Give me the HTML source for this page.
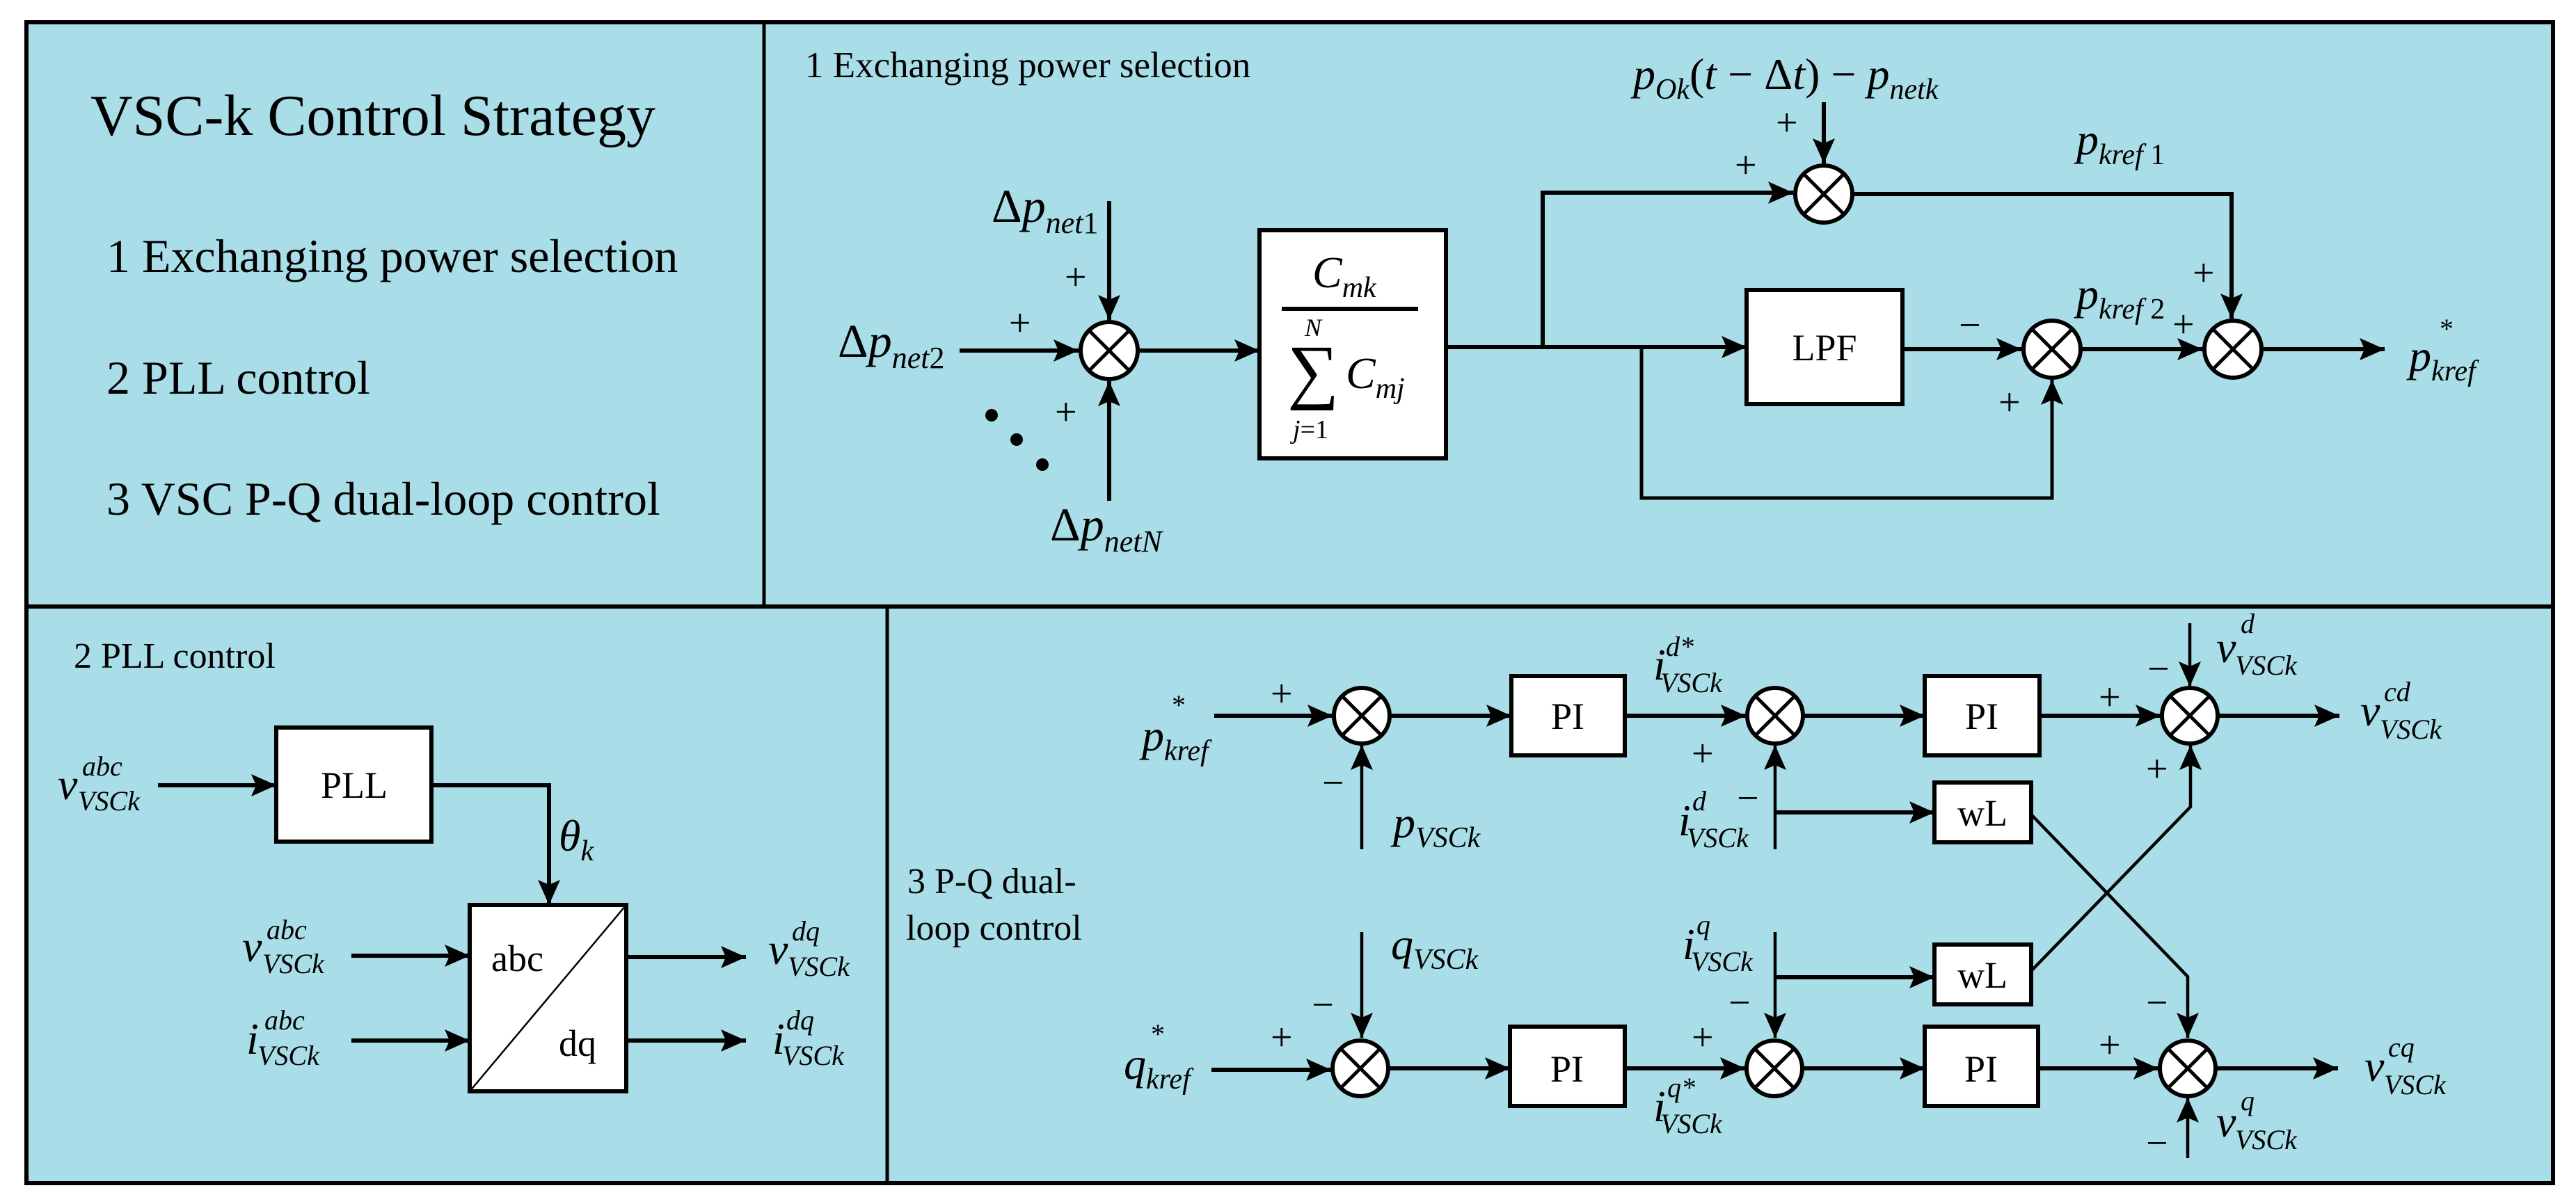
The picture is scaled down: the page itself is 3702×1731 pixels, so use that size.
<!DOCTYPE html>
<html><head><meta charset="utf-8"><style>
html,body{margin:0;padding:0;background:#fff;}
svg{display:block;}
text{font-family:"Liberation Serif",serif;fill:#000;}
.i{font-style:italic;}
</style></head><body>
<svg width="3702" height="1731" viewBox="0 0 3702 1731" xmlns="http://www.w3.org/2000/svg">
<defs>
<marker id="a" markerUnits="userSpaceOnUse" markerWidth="40" markerHeight="40" refX="36" refY="18" orient="auto">
<path d="M0,2 L36,18 L0,34 L7,18 z" fill="#000"/>
</marker>
</defs>
<rect x="38" y="32" width="3631" height="1669" fill="#a9dee8" stroke="#000" stroke-width="6"/>
<line x1="38" y1="872" x2="3669" y2="872" stroke="#000" stroke-width="6"/>
<line x1="1098" y1="34" x2="1098" y2="872" stroke="#000" stroke-width="5"/>
<line x1="1275" y1="872" x2="1275" y2="1701" stroke="#000" stroke-width="5"/>

<text x="130" y="194" font-size="84">VSC-k Control Strategy</text>
<text x="153" y="391" font-size="68">1 Exchanging power selection</text>
<text x="153" y="566" font-size="68">2 PLL control</text>
<text x="153" y="740" font-size="68">3 VSC P-Q dual-loop control</text>

<text x="1157" y="111" font-size="53">1 Exchanging power selection</text>
<text x="106" y="960" font-size="52">2 PLL control</text>
<text x="1304" y="1284" font-size="52">3 P-Q dual-</text>
<text x="1302" y="1351" font-size="52">loop control</text>

<g stroke="#000" stroke-width="6" fill="none">
<line x1="1379" y1="504" x2="1550" y2="504" marker-end="url(#a)"/>
<line x1="1594" y1="289" x2="1594" y2="460" marker-end="url(#a)"/>
<line x1="1594" y1="720" x2="1594" y2="548" marker-end="url(#a)"/>
<line x1="1638" y1="504" x2="1810" y2="504" marker-end="url(#a)"/>
<rect x="1810" y="331" width="268" height="328" fill="#fff"/>
<line x1="1842" y1="444" x2="2038" y2="444"/>
<line x1="2078" y1="499" x2="2510" y2="499" marker-end="url(#a)"/>
<polyline points="2217,499 2217,277 2577,277" marker-end="url(#a)"/>
<line x1="2621" y1="147" x2="2621" y2="235" marker-end="url(#a)"/>
<polyline points="2665,279 3207,279 3207,458" marker-end="url(#a)"/>
<rect x="2510" y="417" width="224" height="164" fill="#fff"/>
<line x1="2734" y1="502" x2="2905" y2="502" marker-end="url(#a)"/>
<polyline points="2359,499 2359,716 2949,716 2949,546" stroke-width="5" marker-end="url(#a)"/>
<line x1="2993" y1="502" x2="3165" y2="502" marker-end="url(#a)"/>
<line x1="3253" y1="502" x2="3427" y2="502" marker-end="url(#a)"/>

<line x1="227" y1="1129" x2="397" y2="1129" marker-end="url(#a)"/>
<rect x="397" y="1046" width="223" height="164" fill="#fff"/>
<polyline points="620,1129 789,1129 789,1301" marker-end="url(#a)"/>
<rect x="675" y="1301" width="225" height="268" fill="#fff"/>
<line x1="675" y1="1569" x2="900" y2="1301" stroke-width="2.5"/>
<line x1="505" y1="1374" x2="675" y2="1374" marker-end="url(#a)"/>
<line x1="505" y1="1496" x2="675" y2="1496" marker-end="url(#a)"/>
<line x1="900" y1="1376" x2="1072" y2="1376" marker-end="url(#a)"/>
<line x1="900" y1="1496" x2="1072" y2="1496" marker-end="url(#a)"/>

<line x1="1745" y1="1029" x2="1915" y2="1029" marker-end="url(#a)"/>
<line x1="1957" y1="1221" x2="1957" y2="1071" stroke-width="4.5" marker-end="url(#a)"/>
<line x1="1999" y1="1029" x2="2172" y2="1029" marker-end="url(#a)"/>
<rect x="2172" y="972" width="163" height="114" fill="#fff"/>
<line x1="2335" y1="1029" x2="2509" y2="1029" marker-end="url(#a)"/>
<line x1="2551" y1="1221" x2="2551" y2="1071" stroke-width="4.5" marker-end="url(#a)"/>
<line x1="2551" y1="1168" x2="2780" y2="1168" marker-end="url(#a)"/>
<rect x="2780" y="1125" width="139" height="86" fill="#fff"/>
<line x1="2593" y1="1029" x2="2766" y2="1029" marker-end="url(#a)"/>
<rect x="2766" y="972" width="165" height="114" fill="#fff"/>
<line x1="2931" y1="1029" x2="3105" y2="1029" marker-end="url(#a)"/>
<line x1="3147" y1="896" x2="3147" y2="987" stroke-width="4.5" marker-end="url(#a)"/>
<line x1="3189" y1="1029" x2="3362" y2="1029" marker-end="url(#a)"/>
<polyline points="2919,1396 3148,1160 3148,1071" stroke-width="4.5" marker-end="url(#a)"/>
<polyline points="2919,1171 3144,1404 3144,1492" stroke-width="4.5" marker-end="url(#a)"/>

<line x1="1957" y1="1340" x2="1957" y2="1492" stroke-width="4.5" marker-end="url(#a)"/>
<line x1="1741" y1="1538" x2="1913" y2="1538" marker-end="url(#a)"/>
<line x1="1997" y1="1536" x2="2170" y2="1536" marker-end="url(#a)"/>
<rect x="2170" y="1476" width="165" height="114" fill="#fff"/>
<line x1="2335" y1="1536" x2="2508" y2="1536" marker-end="url(#a)"/>
<line x1="2551" y1="1340" x2="2551" y2="1492" stroke-width="4.5" marker-end="url(#a)"/>
<line x1="2551" y1="1405" x2="2780" y2="1405" marker-end="url(#a)"/>
<rect x="2780" y="1358" width="139" height="86" fill="#fff"/>
<line x1="2592" y1="1536" x2="2766" y2="1536" marker-end="url(#a)"/>
<rect x="2766" y="1476" width="163" height="114" fill="#fff"/>
<line x1="2929" y1="1536" x2="3102" y2="1536" marker-end="url(#a)"/>
<line x1="3144" y1="1665" x2="3144" y2="1578" stroke-width="4.5" marker-end="url(#a)"/>
<line x1="3186" y1="1536" x2="3360" y2="1536" marker-end="url(#a)"/>
</g>

<g stroke="#000" stroke-width="6" fill="#fff">
<g transform="translate(1594,504)"><circle r="41"/><path d="M-29,-29L29,29M29,-29L-29,29" stroke-width="5"/></g>
<g transform="translate(2621,279)"><circle r="41"/><path d="M-29,-29L29,29M29,-29L-29,29" stroke-width="5"/></g>
<g transform="translate(2949,502)"><circle r="41"/><path d="M-29,-29L29,29M29,-29L-29,29" stroke-width="5"/></g>
<g transform="translate(3209,502)"><circle r="41"/><path d="M-29,-29L29,29M29,-29L-29,29" stroke-width="5"/></g>
<g transform="translate(1957,1029)"><circle r="40"/><path d="M-28,-28L28,28M28,-28L-28,28" stroke-width="5"/></g>
<g transform="translate(2551,1029)"><circle r="40"/><path d="M-28,-28L28,28M28,-28L-28,28" stroke-width="5"/></g>
<g transform="translate(3147,1029)"><circle r="40"/><path d="M-28,-28L28,28M28,-28L-28,28" stroke-width="5"/></g>
<g transform="translate(1955,1536)"><circle r="40"/><path d="M-28,-28L28,28M28,-28L-28,28" stroke-width="5"/></g>
<g transform="translate(2550,1536)"><circle r="40"/><path d="M-28,-28L28,28M28,-28L-28,28" stroke-width="5"/></g>
<g transform="translate(3144,1536)"><circle r="40"/><path d="M-28,-28L28,28M28,-28L-28,28" stroke-width="5"/></g>
</g>

<circle cx="1425" cy="597" r="9"/><circle cx="1461" cy="632" r="9"/><circle cx="1498" cy="668" r="9"/>

<g font-size="54" text-anchor="middle">
<text x="2622" y="518">LPF</text>
<text x="509" y="1147">PLL</text>
<text x="2253" y="1048">PI</text>
<text x="2848" y="1048">PI</text>
<text x="2252" y="1555">PI</text>
<text x="2847" y="1555">PI</text>
<text x="2849" y="1187">wL</text>
<text x="2849" y="1420">wL</text>
</g>
<text x="706" y="1396" font-size="54">abc</text>
<text x="803" y="1518" font-size="54">dq</text>

<g font-size="56">
<text x="1530" y="417">+</text><text x="1450" y="483">+</text><text x="1516" y="611">+</text>
<text x="2552" y="195">+</text><text x="2493" y="256">+</text>
<text x="2815" y="486">−</text><text x="2872" y="597">+</text>
<text x="3151" y="411">+</text><text x="3122" y="485">+</text>
<text x="1826" y="1016">+</text><text x="1900" y="1144">−</text>
<text x="2431" y="1102">+</text><text x="2496" y="1166">−</text>
<text x="3016" y="1021">+</text><text x="3086" y="980">−</text><text x="3084" y="1124">+</text>
<text x="1826" y="1510">+</text><text x="1885" y="1463">−</text>
<text x="2484" y="1460">−</text><text x="2431" y="1510">+</text>
<text x="3016" y="1521">+</text><text x="3084" y="1460">−</text><text x="3084" y="1662">−</text>
</g>

<g class="i">
<text x="1204" y="513" font-size="68"><tspan font-style="normal">Δ</tspan>p<tspan font-size="44" dy="16">net</tspan><tspan font-size="44" font-style="normal">2</tspan></text>
<text x="1425" y="319" font-size="68"><tspan font-style="normal">Δ</tspan>p<tspan font-size="44" dy="16">net</tspan><tspan font-size="44" font-style="normal">1</tspan></text>
<text x="1509" y="777" font-size="68"><tspan font-style="normal">Δ</tspan>p<tspan font-size="44" dy="16">netN</tspan></text>
<text x="1886" y="413" font-size="64">C<tspan font-size="42" dy="14">mk</tspan></text>
<text x="1875" y="483" font-size="36">N</text>
<text x="1850" y="568" font-size="104" font-style="normal">∑</text>
<text x="1934" y="558" font-size="64">C<tspan font-size="42" dy="14">mj</tspan></text>
<text x="1858" y="630" font-size="38">j<tspan font-style="normal">=1</tspan></text>
<text x="2347" y="128" font-size="64">p<tspan font-size="42" dy="14">Ok</tspan><tspan dy="-14" font-style="normal">(</tspan>t<tspan font-style="normal"> − Δ</tspan>t<tspan font-style="normal">) − </tspan>p<tspan font-size="42" dy="14">netk</tspan></text>
<text x="2984" y="222" font-size="64">p<tspan font-size="42" dy="14">kref</tspan><tspan font-size="42" font-style="normal"> 1</tspan></text>
<text x="2984" y="444" font-size="64">p<tspan font-size="42" dy="14">kref</tspan><tspan font-size="42" font-style="normal"> 2</tspan></text>
<text x="3462" y="533" font-size="64">p<tspan font-size="42" dy="14">kref</tspan></text>
<text x="3506" y="486" font-size="40" font-style="normal">*</text>

<text x="83" y="1149" font-size="64">v</text><text x="118" y="1115" font-size="40">abc</text><text x="112" y="1165" font-size="40">VSCk</text>
<text x="803" y="1223" font-size="64">θ<tspan font-size="42" dy="14">k</tspan></text>
<text x="348" y="1382" font-size="64">v</text><text x="383" y="1350" font-size="40">abc</text><text x="377" y="1399" font-size="40">VSCk</text>
<text x="354" y="1515" font-size="64">i</text><text x="380" y="1480" font-size="40">abc</text><text x="370" y="1531" font-size="40">VSCk</text>
<text x="1104" y="1386" font-size="64">v</text><text x="1138" y="1352" font-size="40">dq</text><text x="1132" y="1403" font-size="40">VSCk</text>
<text x="1110" y="1515" font-size="64">i</text><text x="1130" y="1480" font-size="40">dq</text><text x="1124" y="1531" font-size="40">VSCk</text>

<text x="1641" y="1079" font-size="64">p<tspan font-size="42" dy="14">kref</tspan></text>
<text x="1684" y="1027" font-size="40" font-style="normal">*</text>
<text x="1615" y="1551" font-size="64">q<tspan font-size="42" dy="14">kref</tspan></text>
<text x="1654" y="1500" font-size="40" font-style="normal">*</text>
<text x="2002" y="1204" font-size="64">p<tspan font-size="42" dy="14">VSCk</tspan></text>
<text x="1999" y="1379" font-size="64">q<tspan font-size="42" dy="14">VSCk</tspan></text>
<text x="2376" y="977" font-size="64">i</text><text x="2394" y="943" font-size="40">d*</text><text x="2386" y="995" font-size="40">VSCk</text>
<text x="2412" y="1201" font-size="64">i</text><text x="2432" y="1165" font-size="40">d</text><text x="2424" y="1218" font-size="40">VSCk</text>
<text x="2418" y="1379" font-size="64">i</text><text x="2438" y="1343" font-size="40">q</text><text x="2430" y="1396" font-size="40">VSCk</text>
<text x="2376" y="1612" font-size="64">i</text><text x="2396" y="1577" font-size="40">q*</text><text x="2386" y="1629" font-size="40">VSCk</text>
<text x="3185" y="952" font-size="64">v</text><text x="3220" y="910" font-size="40">d</text><text x="3212" y="970" font-size="40">VSCk</text>
<text x="3392" y="1043" font-size="64">v</text><text x="3426" y="1008" font-size="40">cd</text><text x="3420" y="1062" font-size="40">VSCk</text>
<text x="3398" y="1554" font-size="64">v</text><text x="3432" y="1519" font-size="40">cq</text><text x="3426" y="1573" font-size="40">VSCk</text>
<text x="3185" y="1634" font-size="64">v</text><text x="3220" y="1596" font-size="40">q</text><text x="3212" y="1652" font-size="40">VSCk</text>
</g>
</svg>
</body></html>
